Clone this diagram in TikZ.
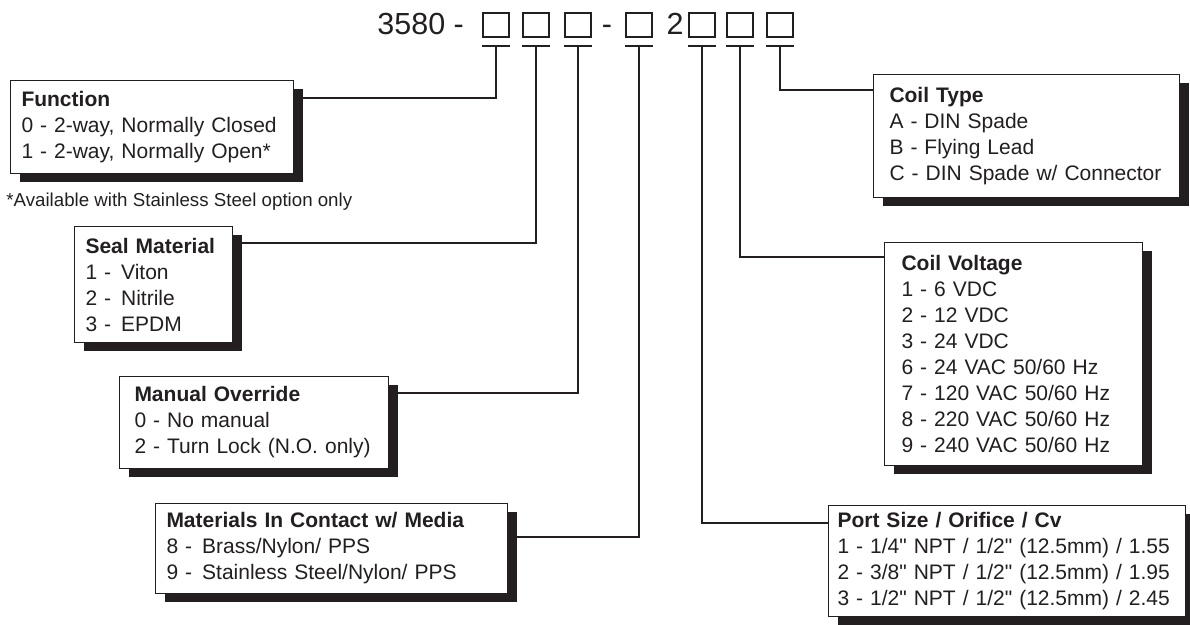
\documentclass[tikz,border=0pt]{standalone}
\usepackage{fontspec}
\setmainfont{Liberation Sans}[Ligatures=TeXOff]
\usetikzlibrary{positioning, shadows}
\definecolor{ink}{HTML}{231F20}
\frenchspacing

\begin{document}
\begin{tikzpicture}[x=0.5pt, y=-0.5pt, ink, text=ink,
    specbox/.style={draw=ink, line width=0.5pt, fill=white, anchor=north west, align=left,
        inner ysep=0pt, font=\fontsize{10.5}{13}\selectfont,
        drop shadow={shadow xshift=4.5pt, shadow yshift=-4.5pt, opacity=1, fill=ink}},
    digit/.style={draw=ink, line width=1pt, minimum width=13pt, minimum height=12pt, inner sep=0pt},
    link/.style={draw=ink, line width=1pt},
    big/.style={font=\fontsize{15.25}{18}\selectfont, inner sep=0pt, anchor=base}]
    \useasboundingbox (0,0) rectangle (1190,625);

    % part number
    \node[big, anchor=base west] (code) at (377,35) {3580 -};
    \node[big] (dash) at (607,35) {-};
    \node[big] (two) at (675,35) {2};
    \foreach \n/\x in {1/496,2/536,3/578,4/639,5/702,6/740,7/780} {
        \node[digit] (b\n) at (\x,25) {};
        \draw[link] ([yshift=-4pt]b\n.south west) -- ([yshift=-4pt]b\n.south east);
        \coordinate (t\n) at ([yshift=-4pt]b\n.south);
    }

    % option boxes
    \node[specbox, minimum width=141.5pt, minimum height=46.5pt, text width=130.5pt, inner xsep=5.5pt]
        (func) at (10,80) {\textbf{Function}\\0 - 2-way, Normally Closed\\1 - 2-way, Normally Open*};
    \node[anchor=base west, font=\fontsize{9.35}{11}\selectfont, inner sep=0pt]
        (note) at (6,207) {*Available with Stainless Steel option only};
    \node[specbox, minimum width=79pt, minimum height=58pt, text width=68pt, inner xsep=5.5pt]
        (seal) at (74,226) {\textbf{Seal Material}\\1 -\hspace{1.5pt} Viton\\2 -\hspace{1.5pt} Nitrile\\3 -\hspace{1.5pt} EPDM};
    \node[specbox, minimum width=134.5pt, minimum height=46pt, text width=119.5pt, inner xsep=7.5pt]
        (manual) at (119,376) {\textbf{Manual Override}\\0 - No manual\\2 - Turn Lock (N.O. only)};
    \node[specbox, minimum width=176pt, minimum height=45pt, text width=165pt, inner xsep=5.5pt]
        (media) at (155,503) {\textbf{Materials In Contact w/ Media}\\8 -\hspace{1.5pt} Brass/Nylon/ PPS\\9 -\hspace{1.5pt} Stainless Steel/Nylon/ PPS};
    \node[specbox, minimum width=153pt, minimum height=61.5pt, text width=137pt, inner xsep=8pt]
        (coiltype) at (873,74) {\textbf{Coil Type}\\A - DIN Spade\\B - Flying Lead\\C - DIN Spade w/ Connector};
    \node[specbox, minimum width=129pt, minimum height=111.5pt, text width=112pt, inner xsep=8.5pt]
        (volt) at (884,242) {\textbf{Coil Voltage}\\1 - 6 VDC\\2 - 12 VDC\\3 - 24 VDC\\6 - 24 VAC 50/60 Hz\\7 - 120 VAC 50/60 Hz\\8 - 220 VAC 50/60 Hz\\9 - 240 VAC 50/60 Hz};
    \node[specbox, minimum width=178.5pt, minimum height=55.5pt, text width=169.5pt, inner xsep=4.5pt]
        (port) at (828,505) {\textbf{Port Size / Orifice / Cv}\\1 - 1/4" NPT / 1/2" (12.5mm) / 1.55\\2 - 3/8" NPT / 1/2" (12.5mm) / 1.95\\3 - 1/2" NPT / 1/2" (12.5mm) / 2.45};

    % leaders
    \draw[link] (t1) |- ([yshift=-9pt]func.north east);
    \draw[link] (t2) |- ([yshift=-8.5pt]seal.north east);
    \draw[link] (t3) |- ([yshift=-8.5pt]manual.north east);
    \draw[link] (t4) |- ([yshift=-17pt]media.north east);
    \draw[link] (t5) |- ([yshift=-9pt]port.north west);
    \draw[link] (t6) |- ([yshift=-7.5pt]volt.north west);
    \draw[link] (t7) |- ([yshift=-8pt]coiltype.north west);
\end{tikzpicture}
\end{document}
